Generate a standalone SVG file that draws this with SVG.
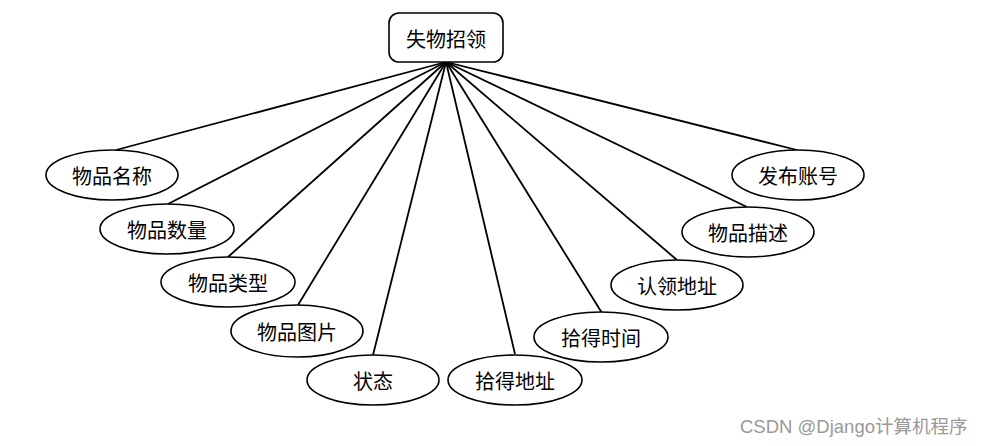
<svg xmlns="http://www.w3.org/2000/svg" width="986" height="446" viewBox="0 0 986 446">
<style>
.n{fill:#fff;stroke:#000;stroke-width:1.6}
.t{font-family:"Noto Sans CJK SC","Microsoft YaHei",sans-serif;font-size:20px;fill:#000;text-anchor:middle;dominant-baseline:central}
.c line{stroke:#000;stroke-width:1.8}
.w{font-family:"Liberation Sans","Noto Sans CJK SC",sans-serif;font-size:18.5px;fill:#999}
</style>
<rect width="986" height="446" fill="#fff"/>
<g class="c" id="connectors">
<line x1="446" y1="62" x2="116" y2="150"/>
<line x1="446" y1="62" x2="168" y2="204"/>
<line x1="446" y1="62" x2="228" y2="257"/>
<line x1="446" y1="62" x2="298" y2="305"/>
<line x1="446" y1="62" x2="373" y2="355"/>
<line x1="446" y1="62" x2="515" y2="354"/>
<line x1="446" y1="62" x2="602" y2="313"/>
<line x1="446" y1="62" x2="677" y2="260"/>
<line x1="446" y1="62" x2="747" y2="207"/>
<line x1="446" y1="62" x2="797" y2="150"/>
</g>
<g id="root"><rect class="n" x="389" y="13" width="114" height="49" rx="10"/><text class="t" x="446" y="38">失物招领</text></g>
<g id="n1"><ellipse class="n" cx="112" cy="175" rx="66" ry="25"/><text class="t" x="112" y="175">物品名称</text></g>
<g id="n2"><ellipse class="n" cx="167" cy="229" rx="67" ry="25"/><text class="t" x="167" y="229">物品数量</text></g>
<g id="n3"><ellipse class="n" cx="228" cy="282" rx="67" ry="25"/><text class="t" x="228" y="282">物品类型</text></g>
<g id="n4"><ellipse class="n" cx="297" cy="331" rx="66" ry="26"/><text class="t" x="297" y="331">物品图片</text></g>
<g id="n5"><ellipse class="n" cx="373" cy="380" rx="66" ry="25"/><text class="t" x="373" y="380">状态</text></g>
<g id="n6"><ellipse class="n" cx="515" cy="380" rx="67" ry="25"/><text class="t" x="515" y="380">拾得地址</text></g>
<g id="n7"><ellipse class="n" cx="601" cy="337" rx="67" ry="25"/><text class="t" x="601" y="337">拾得时间</text></g>
<g id="n8"><ellipse class="n" cx="677" cy="285" rx="66" ry="25"/><text class="t" x="677" y="285">认领地址</text></g>
<g id="n9"><ellipse class="n" cx="748" cy="232" rx="66" ry="25"/><text class="t" x="748" y="232">物品描述</text></g>
<g id="n10"><ellipse class="n" cx="798" cy="175" rx="66" ry="25"/><text class="t" x="798" y="175">发布账号</text></g>
<text class="w" x="740" y="433">CSDN @Django计算机程序</text>
</svg>
